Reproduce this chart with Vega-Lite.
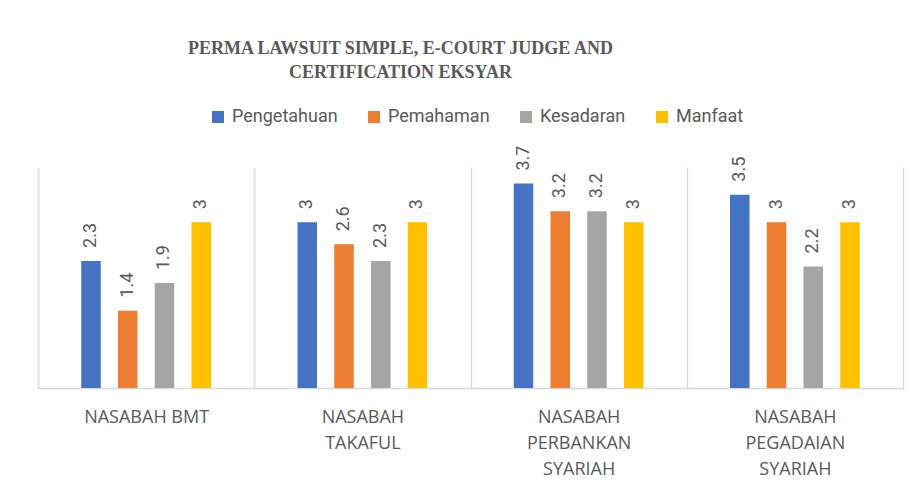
{
  "$schema": "https://vega.github.io/schema/vega-lite/v6.json",
  "width": 865,
  "height": 221,
  "autosize": "none",
  "padding": {"left": 38, "top": 167, "right": 17, "bottom": 104},
  "background": "white",
  "config": {"view": {"stroke": null}},
  "title": {
    "text": ["PERMA LAWSUIT SIMPLE, E-COURT JUDGE AND", "CERTIFICATION EKSYAR"],
    "anchor": "middle",
    "dx": -70,
    "offset": 26,
    "font": "Liberation Serif",
    "fontSize": 18,
    "fontWeight": "bold",
    "color": "#595959",
    "lineHeight": 24
  },
  "data": {
    "values": [
      {"category": "NASABAH BMT", "series": "Pengetahuan", "value": 2.3},
      {"category": "NASABAH BMT", "series": "Pemahaman", "value": 1.4},
      {"category": "NASABAH BMT", "series": "Kesadaran", "value": 1.9},
      {"category": "NASABAH BMT", "series": "Manfaat", "value": 3},
      {"category": "NASABAH TAKAFUL", "series": "Pengetahuan", "value": 3},
      {"category": "NASABAH TAKAFUL", "series": "Pemahaman", "value": 2.6},
      {"category": "NASABAH TAKAFUL", "series": "Kesadaran", "value": 2.3},
      {"category": "NASABAH TAKAFUL", "series": "Manfaat", "value": 3},
      {"category": "NASABAH PERBANKAN SYARIAH", "series": "Pengetahuan", "value": 3.7},
      {"category": "NASABAH PERBANKAN SYARIAH", "series": "Pemahaman", "value": 3.2},
      {"category": "NASABAH PERBANKAN SYARIAH", "series": "Kesadaran", "value": 3.2},
      {"category": "NASABAH PERBANKAN SYARIAH", "series": "Manfaat", "value": 3},
      {"category": "NASABAH PEGADAIAN SYARIAH", "series": "Pengetahuan", "value": 3.5},
      {"category": "NASABAH PEGADAIAN SYARIAH", "series": "Pemahaman", "value": 3},
      {"category": "NASABAH PEGADAIAN SYARIAH", "series": "Kesadaran", "value": 2.2},
      {"category": "NASABAH PEGADAIAN SYARIAH", "series": "Manfaat", "value": 3}
    ]
  },
  "encoding": {
    "x": {
      "field": "category",
      "type": "nominal",
      "sort": null,
      "scale": {"paddingInner": 0, "paddingOuter": 0},
      "axis": {
        "title": null,
        "labelAngle": 0,
        "labelExpr": "datum.label == 'NASABAH BMT' ? datum.label : split(datum.label, ' ')",
        "labelFont": "Open Sans",
        "labelFontSize": 18,
        "labelColor": "#595959",
        "labelLineHeight": 26,
        "labelPadding": 20,
        "labelLimit": 0,
        "ticks": false,
        "tickBand": "extent",
        "grid": true,
        "gridColor": "#d9d9d9",
        "gridWidth": 1.5,
        "domain": true,
        "domainColor": "#d9d9d9",
        "domainWidth": 1.5
      }
    },
    "xOffset": {
      "field": "series",
      "type": "nominal",
      "scale": {
        "domain": ["_start", "Pengetahuan", "Pemahaman", "Kesadaran", "Manfaat", "_end"],
        "paddingInner": 0.469,
        "paddingOuter": 0.177
      }
    },
    "y": {
      "field": "value",
      "type": "quantitative",
      "scale": {"domain": [0, 4], "nice": false},
      "axis": null
    }
  },
  "layer": [
    {
      "mark": {"type": "bar"},
      "encoding": {
        "color": {
          "field": "series",
          "type": "nominal",
          "scale": {
            "domain": ["Pengetahuan", "Pemahaman", "Kesadaran", "Manfaat"],
            "range": ["#4472C4", "#ED7D31", "#A5A5A5", "#FFC000"]
          },
          "legend": {
            "title": null,
            "orient": "none",
            "direction": "horizontal",
            "legendX": 171,
            "legendY": -59,
            "symbolType": "square",
            "symbolSize": 144,
            "symbolStrokeWidth": 0,
            "labelFont": "Roboto",
            "labelFontSize": 18,
            "labelColor": "#595959",
            "labelOffset": 5,
            "columnPadding": 27,
            "padding": 0
          }
        }
      }
    },
    {
      "mark": {
        "type": "text",
        "angle": 270,
        "align": "left",
        "baseline": "middle",
        "dx": 13,
        "font": "Roboto",
        "fontSize": 18,
        "color": "#595959"
      },
      "encoding": {
        "text": {"field": "value", "type": "quantitative"}
      }
    }
  ]
}
